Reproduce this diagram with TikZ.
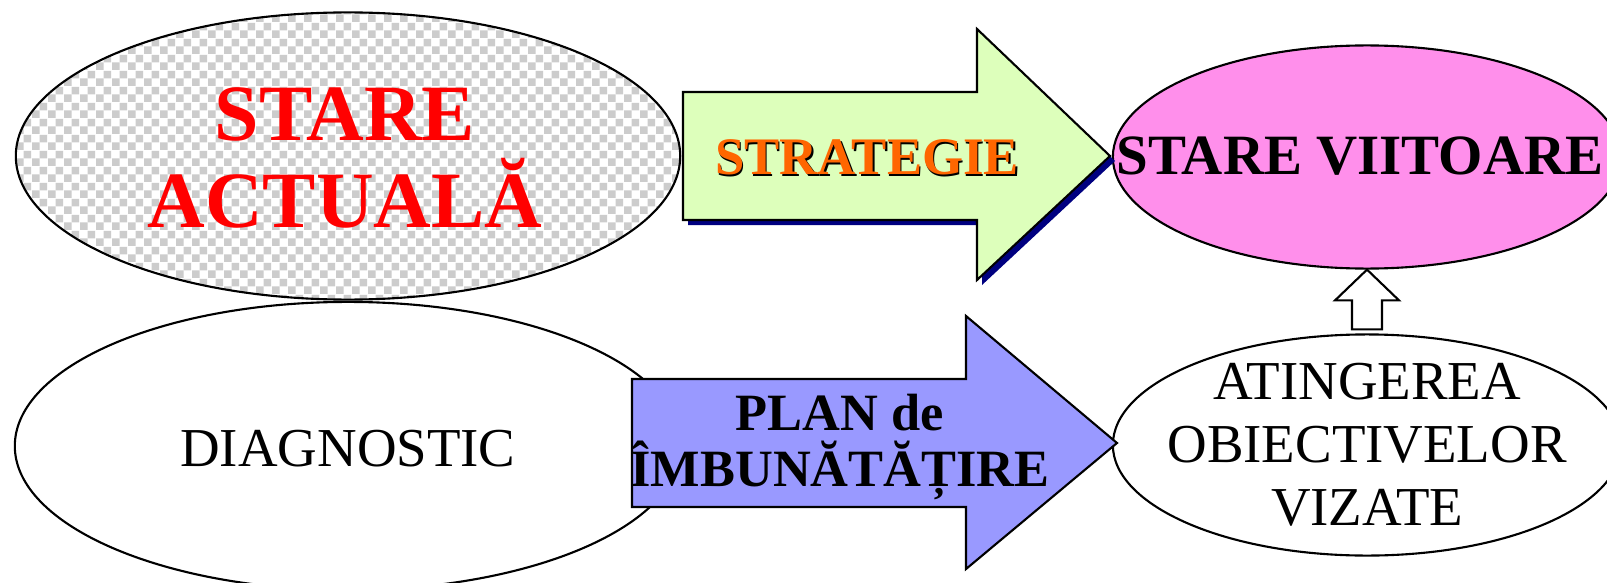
\documentclass[tikz,border=0pt]{standalone}
\usepackage{fontspec}
\setmainfont{Liberation Serif}
\usetikzlibrary{shapes.geometric}
\usetikzlibrary{calc}
\usetikzlibrary{patterns.meta}

\definecolor{checkgray}{RGB}{204,204,204}
\definecolor{strategyfill}{RGB}{221,255,187}
\definecolor{planfill}{RGB}{153,153,255}
\definecolor{futurefill}{RGB}{255,143,235}
\definecolor{strategytext}{RGB}{255,102,0}
\definecolor{arrowshadow}{RGB}{0,0,128}

\tikzdeclarepattern{
  name=checks,
  type=uncolored,
  bottom left={(0pt,0pt)},
  top right={(4.56pt,4.56pt)},
  tile size={(4.56pt,4.56pt)},
  code={
    \fill (0pt,0pt) rectangle (2.28pt,2.28pt);
    \fill (2.28pt,2.28pt) rectangle (4.56pt,4.56pt);
  }
}

\begin{document}
\begin{tikzpicture}[x=0.01cm,y=-0.01cm,
  blob/.style={draw,ellipse,line width=0.6pt,inner sep=0pt},
  blockarrow/.style={draw,line width=0.6pt,line join=miter},
  bigtext/.style={font=\fontsize{22.7}{25}\selectfont\bfseries,text=red,align=center},
  boldtext/.style={font=\fontsize{14.9}{16.2}\selectfont\bfseries,align=center},
  plaintext/.style={font=\fontsize{15.6}{17.9}\selectfont,align=center}]
  \useasboundingbox (0,0) rectangle (1607,582);
  \clip (0,0) rectangle (1607,582);
  % ellipses
  \node[blob,minimum width=6.64cm,minimum height=2.87cm,preaction={fill=white},pattern=checks,pattern color=checkgray] (now) at (348,156){};
  \node[blob,minimum width=6.66cm,minimum height=2.88cm,fill=white] (diag) at (348,446){};
  \node[blob,minimum width=5.08cm,minimum height=2.23cm,fill=futurefill] (future) at (1367,157){};
  \node[blob,minimum width=5.08cm,minimum height=2.21cm,fill=white] (goal) at (1367,445){};
  % block arrows
  \fill[arrowshadow,shift={(5,5)}] (683,92) -- (977,92) -- (977,29) -- (1110,156) -- (977,280) -- (977,220) -- (683,220) -- cycle;
  \draw[blockarrow,fill=strategyfill] (683,92) -- (977,92) -- (977,29) -- (1110,156) -- (977,280) -- (977,220) -- (683,220) -- cycle;
  \draw[blockarrow,fill=planfill] (632,379) -- (966,379) -- (966,316) -- (1117,443) -- (966,569) -- (966,507) -- (632,507) -- cycle;
  \draw[blockarrow,fill=white] ($(goal.north)+(-15,-4)$) -- ($(goal.north)+(-15,-33)$) -- ($(goal.north)+(-32,-33)$) -- (future.south)
    -- ($(goal.north)+(32,-33)$) -- ($(goal.north)+(15,-33)$) -- ($(goal.north)+(15,-4)$) -- cycle;
  % texts
  \node[bigtext] (nowtext) at ($(now)+(-3,2)$) {STARE\\ACTUALĂ};
  \node[boldtext,font=\fontsize{15}{16.2}\selectfont\bfseries,text=black,anchor=base] (strategyshadow) at (868.5,176.5) {STRATEGIE};
  \node[boldtext,font=\fontsize{15}{16.2}\selectfont\bfseries,text=strategytext,anchor=base] (strategy) at (867,175) {STRATEGIE};
  \node[boldtext,font=\fontsize{16.2}{18}\selectfont\bfseries,anchor=base] (futuretext) at (1360,175) {STARE VIITOARE};
  \node[boldtext] (plantext) at (840,447) {PLAN de\\ÎMBUNĂTĂȚIRE};
  \node[plaintext,anchor=base] (diagtext) at (348,466) {DIAGNOSTIC};
  \node[plaintext] (goaltext) at (goal) {ATINGEREA\\OBIECTIVELOR\\VIZATE};
\end{tikzpicture}
\end{document}
